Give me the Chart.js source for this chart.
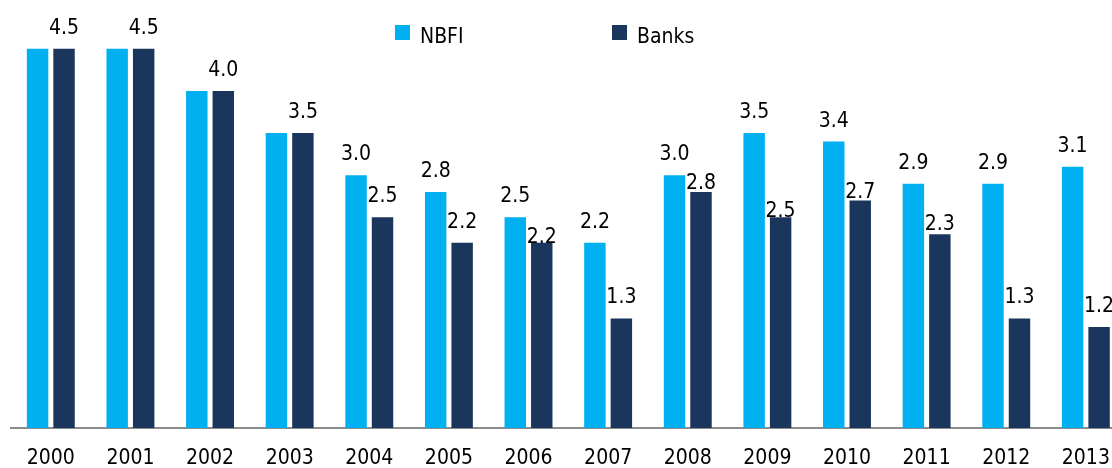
<!DOCTYPE html>
<html>
<head>
<meta charset="utf-8">
<script src="https://cdn.jsdelivr.net/npm/chart.js@4"></script>
<style>
  body { margin: 0; overflow: hidden; background: #fff; }
  #wrap { width: 1130px; height: 468px; }
</style>
</head>
<body>
<div id="wrap"><canvas id="bars"></canvas></div>
<script>
const years = ['2000', '2001', '2002', '2003', '2004', '2005', '2006', '2007', '2008', '2009', '2010', '2011', '2012', '2013'];
const nbfi = [4.5, 4.5, 4.0, 3.5, 3.0, 2.8, 2.5, 2.2, 3.0, 3.5, 3.4, 2.9, 2.9, 3.1];
const banks = [4.5, 4.5, 4.0, 3.5, 2.5, 2.2, 2.2, 1.3, 2.8, 2.5, 2.7, 2.3, 1.3, 1.2];

// how far some Banks labels sit lower (they were pushed down in the original)
const bankLabelDrop = [0, 0, 0, 0, 0, 0, 15, 0, 12, 15, 12, 11, 0, 0];

const FONT = '"DejaVu Sans Condensed", "DejaVu Sans", sans-serif';
const NBFI_COLOR = '#00B0F0';
const BANK_COLOR = '#1A365D';

const valueLabels = {
    id: 'valueLabels',
    afterDatasetsDraw(chart) {
        const ctx = chart.ctx;
        ctx.save();
        ctx.font = '21px ' + FONT;
        ctx.fillStyle = '#000';
        ctx.textAlign = 'center';
        ctx.textBaseline = 'alphabetic';
        chart.data.datasets.forEach((ds, di) => {
            chart.getDatasetMeta(di).data.forEach((bar, i) => {
                // equal pairs only show one label in the original
                if (di === 0 && nbfi[i] === banks[i]) return;
                const drop = di === 1 ? bankLabelDrop[i] : 0;
                ctx.fillText(ds.data[i].toFixed(1), bar.x, bar.y - 15 + drop);
            });
        });
        ctx.restore();
    }
};

const topLegend = {
    id: 'topLegend',
    afterDraw(chart) {
        const ctx = chart.ctx;
        ctx.save();
        ctx.font = '21px ' + FONT;
        ctx.textBaseline = 'alphabetic';
        ctx.textAlign = 'left';
        const items = [[395, NBFI_COLOR, 'NBFI'], [612, BANK_COLOR, 'Banks']];
        items.forEach(([x, color, text]) => {
            ctx.fillStyle = color;
            ctx.fillRect(x, 25, 15, 15);
            ctx.fillStyle = '#000';
            ctx.fillText(text, x + 25, 43);
        });
        ctx.restore();
    }
};

new Chart(document.getElementById('bars'), {
    type: 'bar',
    data: {
        labels: years,
        datasets: [
            { label: 'NBFI', data: nbfi, backgroundColor: NBFI_COLOR },
            { label: 'Banks', data: banks, backgroundColor: BANK_COLOR }
        ]
    },
    options: {
        responsive: true,
        maintainAspectRatio: false,
        animation: false,
        categoryPercentage: 0.665,
        barPercentage: 0.81,
        layout: { padding: { left: 11, right: 3, top: 0, bottom: 0 } },
        plugins: {
            legend: { display: false },
            tooltip: { enabled: false }
        },
        scales: {
            x: {
                grid: { display: false, drawTicks: false },
                border: { display: true, color: '#8c8c8c', width: 2 },
                ticks: {
                    autoSkip: false,
                    maxRotation: 0,
                    padding: 20,
                    color: '#000',
                    font: { family: FONT, size: 21, lineHeight: 1 }
                },
                afterFit(scale) { scale.height = 40; }
            },
            y: {
                display: false,
                min: 0,
                max: 5.08
            }
        }
    },
    plugins: [valueLabels, topLegend]
});
</script>
</body>
</html>
